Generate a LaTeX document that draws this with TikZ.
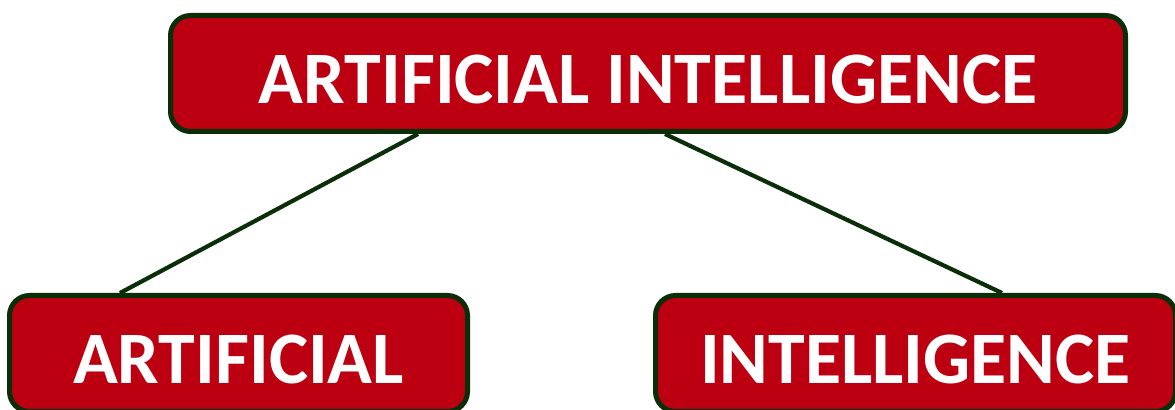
\documentclass[tikz,border=0pt]{standalone}
\usepackage{fontspec}
\setmainfont{Carlito}
\definecolor{boxred}{RGB}{188,0,17}
\definecolor{boxgreen}{RGB}{10,46,8}
\tikzset{
  wordbox/.style={draw=boxgreen, line width=2.5pt, fill=boxred, rounded corners=10pt,
    text=white, font=\fontsize{37}{42}\selectfont\bfseries, inner sep=0pt, anchor=center,
    text height=29.9pt, text depth=0pt},
  link/.style={draw=boxgreen, line width=2.1pt}
}
\begin{document}
\begin{tikzpicture}[x=0.5pt,y=-0.5pt]
\useasboundingbox (0,0) rectangle (1175,410);
\node[wordbox, minimum width=477.5pt, minimum height=58pt] (ai) at (648,73.5) {ARTIFICIAL INTELLIGENCE};
\node[wordbox, minimum width=229pt, minimum height=58pt] (art) at (238.5,353.5) {ARTIFICIAL};
\node[wordbox, minimum width=260pt, minimum height=58pt] (int) at (915.5,353.5) {INTELLIGENCE};

\draw[link] ([xshift=125pt]ai.south west)--([xshift=56.5pt]art.north west);
\draw[link] ([xshift=248.5pt]ai.south west)--([xshift=174.5pt]int.north west);
\end{tikzpicture}
\end{document}
